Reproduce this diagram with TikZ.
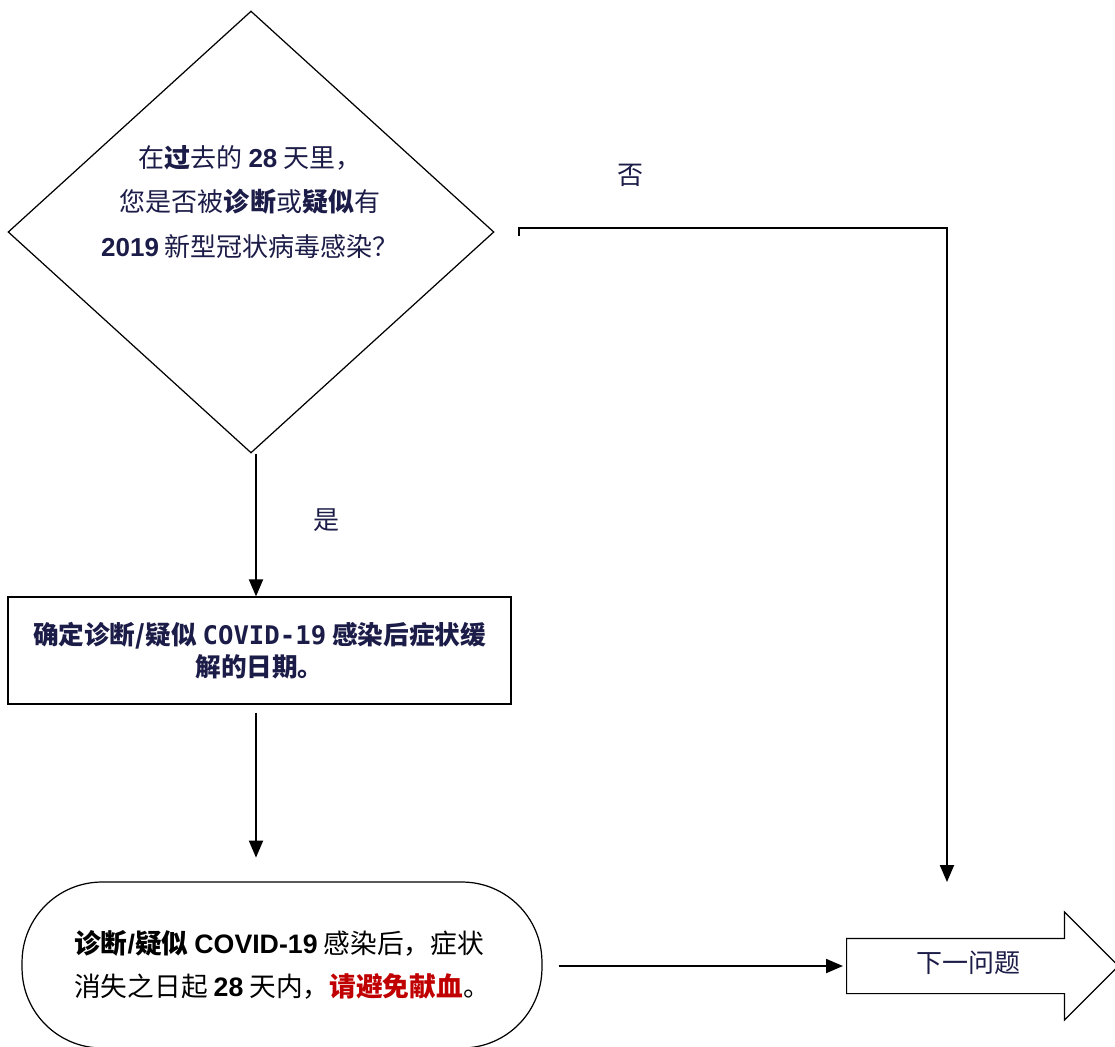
\documentclass[tikz,border=0pt]{standalone}
\usepackage{fontspec}
\newfontfamily\cjk{Noto Sans CJK SC}
\newfontfamily\arial{Liberation Sans}
\newfontfamily\monob{DejaVu Sans Mono}
\usetikzlibrary{shapes.geometric, shapes.arrows, arrows.meta}

\definecolor{navy}{RGB}{28,28,72}
\definecolor{warnred}{RGB}{192,0,0}
\newcommand{\latn}[1]{{\arial\bfseries #1}}

\begin{document}
\begin{tikzpicture}[
    x=0.02cm, y=-0.02cm, >={Triangle[length=0.34cm, width=0.28cm]},
    flow/.style={->, line width=1.1pt},
    txt/.style={font=\cjk\fontsize{14.8}{25.5}\selectfont, text=navy},
    decision/.style={diamond, draw, line width=0.7pt, inner sep=0pt,
        minimum width=9.72cm, minimum height=8.84cm},
    stepbox/.style={rectangle, draw, line width=0.7pt, minimum width=10.06cm,
        minimum height=2.14cm, align=center, text=navy,
        font=\cjk\bfseries\fontsize{14.6}{18}\selectfont},
    endbox/.style={rectangle, rounded corners=1.6cm, draw, line width=0.7pt,
        minimum width=10.4cm, minimum height=3.32cm, align=left,
        font=\cjk\fontsize{15.2}{24.5}\selectfont},
    nextarrow/.style={single arrow, draw, line width=0.7pt, anchor=tail,
        minimum height=5.44cm, minimum width=2.14cm, single arrow head extend=0.53cm,
        text height=0.35cm, text depth=0.1cm, inner ysep=0.315cm, txt}
]
    \useasboundingbox (0,0) rectangle (1115,1046);
    \clip (0,0) rectangle (1115,1046);

    % Nodes
    \node[decision] (q) at (251,232) {};
    \node[txt, align=center] (qtext) at (250,202)
        {在\textbf{过}去的 \latn{28} 天里，\\
         您是否被\textbf{诊断}或\textbf{疑似}有\\
         \latn{2019} 新型冠状病毒感染？};
    \node[stepbox] (dates) at (259.5,650.5)
        {确定诊断/疑似 {\monob\bfseries COVID-19} 感染后症状缓\\解的日期。};
    \node[endbox] (wait) at (282,965)
        {\textbf{诊断}{\arial\bfseries /}\textbf{疑似} \latn{COVID-19} 感染后，症状\\
         消失之日起 \latn{28} 天内，{\color{warnred}\textbf{请避免献血}}。};
    \node[nextarrow] (next) at (846,966) {下一问题};

    % Labels
    \node[txt] (nolabel) at (630,175) {否};
    \node[txt] (yeslabel) at (326,520) {是};

    % Connectors
    % yes: down to the date box
    \draw[flow] ([xshift=0.1cm]q.south) -- ([xshift=0.1cm]q.south |- dates.north);
    \draw[flow] ([xshift=-0.07cm, yshift=-0.16cm]dates.south) -- ++(0,145);
    % no: round to the next question
    \draw[flow] ([shift={(0.48cm,-0.08cm)}]q.east) -- ++(0,-8)
        -| ([shift={(2.02cm,1.68cm)}]next.tail);
    \draw[flow, shorten <=0.32cm, shorten >=0.06cm] (wait.east |- next.tail) -- (next.tail);

\end{tikzpicture}
\end{document}
